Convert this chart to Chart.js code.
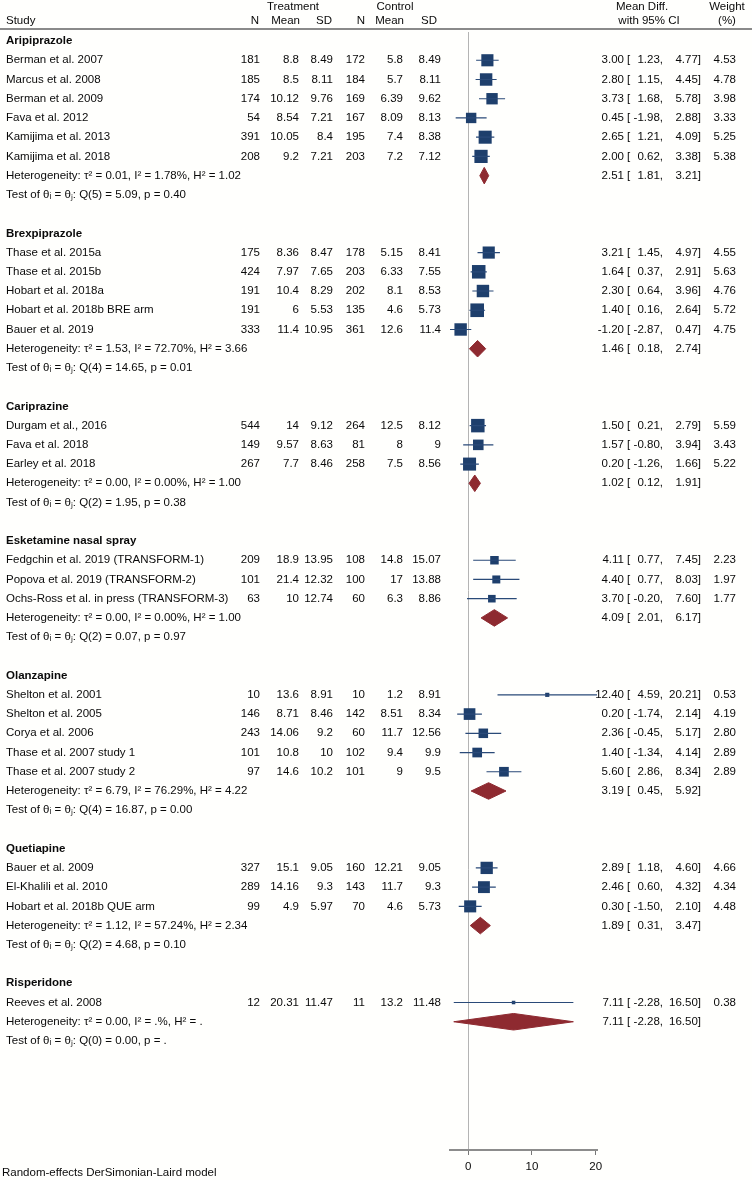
<!DOCTYPE html>
<html>
<head>
<meta charset="utf-8">
<script src="https://cdn.jsdelivr.net/npm/chart.js@4.4.1/dist/chart.umd.min.js"></script>
<style>
  html, body { margin: 0; padding: 0; background: #fffffd; }
  #wrap { width: 752px; height: 1180px; }
</style>
</head>
<body>
<div id="wrap"><canvas id="forest" width="752" height="1180"></canvas></div>
<script>
// ── Subgroups ─────────────────────────────────────────────────
const groupNames = ['Aripiprazole', 'Brexpiprazole', 'Cariprazine', 'Esketamine nasal spray',
                    'Olanzapine', 'Quetiapine', 'Risperidone'];
const groupSizes = [6, 5, 3, 3, 5, 3, 1];

// ── Studies ───────────────────────────────────────────────────
const studyNames = [
  'Berman et al. 2007', 'Marcus et al. 2008', 'Berman et al. 2009', 'Fava et al. 2012',
  'Kamijima et al. 2013', 'Kamijima et al. 2018',
  'Thase et al. 2015a', 'Thase et al. 2015b', 'Hobart et al. 2018a', 'Hobart et al. 2018b BRE arm',
  'Bauer et al. 2019',
  'Durgam et al., 2016', 'Fava et al. 2018', 'Earley et al. 2018',
  'Fedgchin et al. 2019 (TRANSFORM-1)', 'Popova et al. 2019 (TRANSFORM-2)',
  'Ochs-Ross et al. in press (TRANSFORM-3)',
  'Shelton et al. 2001', 'Shelton et al. 2005', 'Corya et al. 2006', 'Thase et al. 2007 study 1',
  'Thase et al. 2007 study 2',
  'Bauer et al. 2009', 'El-Khalili et al. 2010', 'Hobart et al. 2018b QUE arm',
  'Reeves et al. 2008'
];
const trtN    = [181, 185, 174, 54, 391, 208, 175, 424, 191, 191, 333, 544, 149, 267, 209, 101, 63,
                 10, 146, 243, 101, 97, 327, 289, 99, 12];
const trtMean = [8.8, 8.5, 10.12, 8.54, 10.05, 9.2, 8.36, 7.97, 10.4, 6, 11.4, 14, 9.57, 7.7, 18.9, 21.4, 10,
                 13.6, 8.71, 14.06, 10.8, 14.6, 15.1, 14.16, 4.9, 20.31];
const trtSD   = [8.49, 8.11, 9.76, 7.21, 8.4, 7.21, 8.47, 7.65, 8.29, 5.53, 10.95, 9.12, 8.63, 8.46, 13.95, 12.32, 12.74,
                 8.91, 8.46, 9.2, 10, 10.2, 9.05, 9.3, 5.97, 11.47];
const ctlN    = [172, 184, 169, 167, 195, 203, 178, 203, 202, 135, 361, 264, 81, 258, 108, 100, 60,
                 10, 142, 60, 102, 101, 160, 143, 70, 11];
const ctlMean = [5.8, 5.7, 6.39, 8.09, 7.4, 7.2, 5.15, 6.33, 8.1, 4.6, 12.6, 12.5, 8, 7.5, 14.8, 17, 6.3,
                 1.2, 8.51, 11.7, 9.4, 9, 12.21, 11.7, 4.6, 13.2];
const ctlSD   = [8.49, 8.11, 9.62, 8.13, 8.38, 7.12, 8.41, 7.55, 8.53, 5.73, 11.4, 8.12, 9, 8.56, 15.07, 13.88, 8.86,
                 8.91, 8.34, 12.56, 9.9, 9.5, 9.05, 9.3, 5.73, 11.48];
const meanDiff = [3.00, 2.80, 3.73, 0.45, 2.65, 2.00, 3.21, 1.64, 2.30, 1.40, -1.20, 1.50, 1.57, 0.20, 4.11, 4.40, 3.70,
                  12.40, 0.20, 2.36, 1.40, 5.60, 2.89, 2.46, 0.30, 7.11];
const ciLow   = [1.23, 1.15, 1.68, -1.98, 1.21, 0.62, 1.45, 0.37, 0.64, 0.16, -2.87, 0.21, -0.80, -1.26, 0.77, 0.77, -0.20,
                 4.59, -1.74, -0.45, -1.34, 2.86, 1.18, 0.60, -1.50, -2.28];
const ciHigh  = [4.77, 4.45, 5.78, 2.88, 4.09, 3.38, 4.97, 2.91, 3.96, 2.64, 0.47, 2.79, 3.94, 1.66, 7.45, 8.03, 7.60,
                 20.21, 2.14, 5.17, 4.14, 8.34, 4.60, 4.32, 2.10, 16.50];
const weight  = [4.53, 4.78, 3.98, 3.33, 5.25, 5.38, 4.55, 5.63, 4.76, 5.72, 4.75, 5.59, 3.43, 5.22, 2.23, 1.97, 1.77,
                 0.53, 4.19, 2.80, 2.89, 2.89, 4.66, 4.34, 4.48, 0.38];

// ── Subgroup pooled results ───────────────────────────────────
const poolMD   = [2.51, 1.46, 1.02, 4.09, 3.19, 1.89, 7.11];
const poolLow  = [1.81, 0.18, 0.12, 2.01, 0.45, 0.31, -2.28];
const poolHigh = [3.21, 2.74, 1.91, 6.17, 5.92, 3.47, 16.50];
const tau2     = [0.01, 1.53, 0.00, 0.00, 6.79, 1.12, 0.00];
const iSq      = [1.78, 72.70, 0.00, 0.00, 76.29, 57.24, null];
const hSq      = [1.02, 3.66, 1.00, 1.00, 4.22, 2.34, null];
const qDf      = [5, 4, 2, 2, 4, 2, 0];
const qStat    = [5.09, 14.65, 1.95, 0.07, 16.87, 4.68, 0.00];
const pVal     = [0.40, 0.01, 0.38, 0.97, 0.00, 0.10, null];

const xTicks = [0, 10, 20];

// ── Row layout (one row per text line) ────────────────────────
const headRow = [], studyRow = [], hetRow = [], testRow = [];
let r = 0;
groupSizes.forEach((n) => {
  headRow.push(r++);
  for (let j = 0; j < n; j++) studyRow.push(r++);
  hetRow.push(r);
  testRow.push(r + 1);
  r += 3;
});

const FONT   = '"Liberation Sans", Arial, sans-serif';
const FSIZE  = 11.5;
const INK    = '#0a0a0a';
const NAVY   = '#1e3f6c';
const MAROON = '#8e2a30';
const f2  = (v) => v === null ? '.' : v.toFixed(2);
const DIAMOND_H = 0.43;

// ── Datasets ──────────────────────────────────────────────────
const ciData = studyRow.flatMap((row, i) => [
  { x: ciLow[i], y: row }, { x: ciHigh[i], y: row }, { x: null, y: null }
]);
const squareData = studyRow.map((row, i) => ({ x: meanDiff[i], y: row }));

const diamondSets = hetRow.map((row, g) => ({
  type: 'line',
  data: [
    { x: poolLow[g], y: row }, { x: poolMD[g], y: row - DIAMOND_H },
    { x: poolHigh[g], y: row }, { x: poolMD[g], y: row + DIAMOND_H },
    { x: poolLow[g], y: row }
  ],
  borderColor: MAROON,
  borderWidth: 1,
  backgroundColor: MAROON,
  fill: 'shape',
  pointRadius: 0,
  tension: 0,
}));

// ── Text columns plugin ───────────────────────────────────────
const text = (ctx, s, x, y, align = 'left', bold = false) => {
  ctx.font = `${bold ? 'bold ' : ''}${FSIZE}px ${FONT}`;
  ctx.textAlign = align;
  ctx.fillText(s, x, y);
};

const tablePlugin = {
  id: 'forestTable',
  afterDraw(chart) {
    const { ctx } = chart;
    const yS = chart.scales.y;
    ctx.save();
    ctx.fillStyle = INK;
    ctx.textBaseline = 'middle';

    // header
    text(ctx, 'Treatment', 293, 7, 'center');
    text(ctx, 'Control', 395, 7, 'center');
    text(ctx, 'Mean Diff.', 642, 7, 'center');
    text(ctx, 'Weight', 727, 7, 'center');
    text(ctx, 'Study', 6, 21);
    text(ctx, 'N', 259, 21, 'right');
    text(ctx, 'Mean', 300, 21, 'right');
    text(ctx, 'SD', 332, 21, 'right');
    text(ctx, 'N', 365, 21, 'right');
    text(ctx, 'Mean', 404, 21, 'right');
    text(ctx, 'SD', 437, 21, 'right');
    text(ctx, 'with 95% CI', 649, 21, 'center');
    text(ctx, '(%)', 727, 21, 'center');

    ctx.strokeStyle = '#8a8a8a';
    ctx.lineWidth = 2;
    ctx.beginPath();
    ctx.moveTo(0, 29);
    ctx.lineTo(752, 29);
    ctx.stroke();

    groupNames.forEach((name, g) => {
      text(ctx, name, 6, yS.getPixelForValue(headRow[g]), 'left', true);
      const yh = yS.getPixelForValue(hetRow[g]);
      text(ctx, `Heterogeneity: τ² = ${f2(tau2[g])}, I² = ${f2(iSq[g])}%, H² = ${f2(hSq[g])}`, 6, yh);
      text(ctx, `${f2(poolMD[g])}`, 624, yh, 'right');
      text(ctx, '[', 627, yh);
      text(ctx, `${f2(poolLow[g])},`, 663, yh, 'right');
      text(ctx, `${f2(poolHigh[g])}]`, 701, yh, 'right');
      text(ctx, `Test of θᵢ = θⱼ: Q(${qDf[g]}) = ${f2(qStat[g])}, p = ${f2(pVal[g])}`,
           6, yS.getPixelForValue(testRow[g]));
    });

    studyNames.forEach((name, i) => {
      const y = yS.getPixelForValue(studyRow[i]);
      text(ctx, name, 6, y);
      text(ctx, String(trtN[i]), 260, y, 'right');
      text(ctx, String(trtMean[i]), 299, y, 'right');
      text(ctx, String(trtSD[i]), 333, y, 'right');
      text(ctx, String(ctlN[i]), 365, y, 'right');
      text(ctx, String(ctlMean[i]), 403, y, 'right');
      text(ctx, String(ctlSD[i]), 441, y, 'right');
      text(ctx, f2(meanDiff[i]), 624, y, 'right');
      text(ctx, '[', 627, y);
      text(ctx, `${f2(ciLow[i])},`, 663, y, 'right');
      text(ctx, `${f2(ciHigh[i])}]`, 701, y, 'right');
      text(ctx, f2(weight[i]), 736, y, 'right');
    });

    text(ctx, 'Random-effects DerSimonian-Laird model', 2, 1173);
    ctx.restore();
  }
};

// ── Chart ─────────────────────────────────────────────────────
new Chart(document.getElementById('forest'), {
  type: 'line',
  data: {
    datasets: [
      {
        label: 'CI',
        data: ciData,
        borderColor: '#2a4a78',
        borderWidth: 1.2,
        pointRadius: 0,
        spanGaps: false,
        tension: 0,
      },
      {
        label: 'Study',
        data: squareData,
        showLine: false,
        pointStyle: 'rect',
        pointRadius: (c) => 5.7 * Math.sqrt(weight[c.dataIndex] || 0) / (2 * Math.SQRT1_2),
        pointBackgroundColor: NAVY,
        pointBorderColor: NAVY,
        pointBorderWidth: 0,
      },
      ...diamondSets
    ]
  },
  options: {
    responsive: false,
    animation: false,
    events: [],
    layout: { padding: { left: 450, right: 155, top: 32, bottom: 2 } },
    plugins: { legend: { display: false }, tooltip: { enabled: false } },
    scales: {
      x: {
        type: 'linear',
        min: -2.87,
        max: 20.21,
        afterBuildTicks: (s) => { s.ticks = xTicks.map(v => ({ value: v })); },
        afterFit: (s) => { s.height = 28; },
        border: { display: true, color: '#8c8c8c', width: 2 },
        grid: {
          color: (c) => (c.tick && c.tick.value === 0) ? '#b4b4b4' : 'rgba(0,0,0,0)',
          lineWidth: 1,
          tickColor: '#777',
          tickLength: 5,
        },
        ticks: {
          color: INK,
          padding: 5,
          maxRotation: 0,
          font: { family: FONT, size: FSIZE },
        }
      },
      y: {
        type: 'linear',
        display: false,
        reverse: true,
        min: -0.47,
        max: 57.67,
      }
    }
  },
  plugins: [tablePlugin]
});
</script>
</body>
</html>
